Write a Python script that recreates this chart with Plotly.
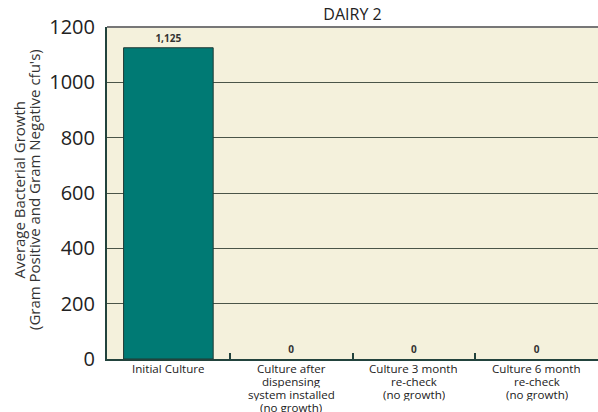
import plotly.graph_objects as go

categories = ["Initial Culture", "Culture after", "Culture 3 month", "Culture 6 month"]
category_lines = [
    ["Initial Culture"],
    ["Culture after", "dispensing", "system installed", "(no growth)"],
    ["Culture 3 month", "re-check", "(no growth)"],
    ["Culture 6 month", "re-check", "(no growth)"],
]
values = [1125, 0, 0, 0]
value_labels = ["1,125", "0", "0", "0"]
y_ticks = [0, 200, 400, 600, 800, 1000, 1200]
y_title_lines = ["Average Bacterial Growth", "(Gram Positive and Gram Negative cfu's)"]

FONT = "Open Sans"
DARK = "#22433d"
L, R, T, B, W, H = 107, 0, 27, 53, 598, 412
PW = W - L - R
PH = H - T - B

fig = go.Figure()
fig.add_trace(go.Bar(
    x=categories, y=values,
    width=0.73,
    marker=dict(color="#007a74",
                line=dict(color="#1f3a35", width=[1 if v > 0 else 0 for v in values])),
    text=value_labels, textposition="outside",
    textfont=dict(family=FONT, size=10, color="#333333", weight="bold"),
    cliponaxis=False,
    hoverinfo="skip",
))

# multi-line category labels with tight leading
LEAD = 12.8
for cat, lines in zip(categories, category_lines):
    for i, line in enumerate(lines):
        fig.add_annotation(
            x=cat, y=0, xref="x", yref="y", text=line, showarrow=False,
            yanchor="top", yshift=-1.1 - i * LEAD, height=LEAD, valign="middle",
            font=dict(family=FONT, size=11.6, color="#222222"),
        )

# y-axis title as two rotated lines
for px, line in zip([18.5, 34.0], y_title_lines):
    fig.add_annotation(
        x=(px - L) / PW, y=1 - (190 - T) / PH, xref="paper", yref="paper",
        text=line, showarrow=False, textangle=-90,
        xanchor="center", yanchor="middle",
        font=dict(family=FONT, size=15, color="#333333"),
    )

fig.update_layout(
    width=W, height=H,
    margin=dict(l=L, r=R, t=T, b=B),
    paper_bgcolor="white",
    plot_bgcolor="#f4f1dc",
    showlegend=False,
    title=dict(text="DAIRY 2", x=(L + W) / 2 / W, xanchor="center",
               y=1 - 14 / H, yanchor="middle",
               font=dict(family=FONT, size=16, color="#222222")),
)
fig.update_yaxes(
    range=[0, 1200], tickvals=y_ticks,
    tickfont=dict(family=FONT, size=20, color="#222222"),
    showgrid=True, gridcolor="#4a5548", gridwidth=1.2,
    showline=True, linecolor=DARK, linewidth=2,
    zeroline=False, ticks="", ticklabelstandoff=6,
)
fig.update_xaxes(
    tickson="boundaries", ticks="inside", ticklen=6, tickcolor=DARK, tickwidth=1.5,
    showline=True, linecolor=DARK, linewidth=2,
    showticklabels=False,
    showgrid=False,
)
fig.add_shape(type="line", xref="paper", yref="paper", x0=0, x1=1, y0=1, y1=1,
              line=dict(color="#777777", width=2))

fig.write_html("out.html")
